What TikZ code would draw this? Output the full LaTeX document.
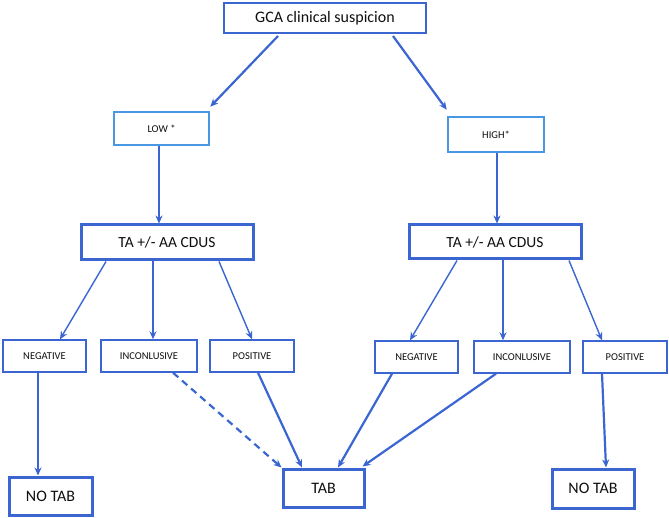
\documentclass[tikz,border=0pt]{standalone}
\usepackage{fontspec}
\setmainfont{Carlito}
\usetikzlibrary{arrows.meta,calc}
\definecolor{mainblue}{RGB}{59,102,210}
\definecolor{lightblue}{RGB}{74,152,228}
\definecolor{txt}{RGB}{15,15,15}
\begin{document}
\begin{tikzpicture}[x=1pt,y=-1pt,
  box/.style={draw=mainblue,rectangle,inner sep=0pt,align=center,text=txt},
  topbox/.style={box,line width=2pt,font=\fontsize{16}{18}\selectfont},
  lvlbox/.style={box,draw=lightblue,line width=2.5pt,font=\fontsize{10.5}{12}\selectfont},
  tabox/.style={box,line width=3pt,font=\fontsize{15.5}{18}\selectfont},
  resbox/.style={box,line width=1.4pt,font=\fontsize{10.5}{12}\selectfont},
  endbox/.style={box,line width=3pt,font=\fontsize{16}{18}\selectfont},
  arr/.style={draw=mainblue,line width=2.2pt,-{Stealth[length=8pt,width=7pt]}},
  thinarr/.style={draw=mainblue,line width=1.4pt,-{Stealth[length=8pt,width=7pt]}},
  dasharr/.style={arr,dash pattern=on 7pt off 5pt}]
\useasboundingbox[fill=white] (0,0) rectangle (669,518);
\node[topbox,minimum width=202,minimum height=30] (top) at (325,18) {GCA clinical suspicion};
\node[lvlbox,minimum width=95,minimum height=33] (low) at (161.5,128.5) {LOW *};
\node[lvlbox,minimum width=96,minimum height=35] (high) at (496,134.5) {HIGH*};
\node[tabox,minimum width=172,minimum height=35] (ta1) at (167,242.5) {TA +/- AA CDUS};
\node[tabox,minimum width=172,minimum height=34] (ta2) at (495,242) {TA +/- AA CDUS};
\node[resbox,minimum width=83,minimum height=32] (neg1) at (44.5,356) {NEGATIVE};
\node[resbox,minimum width=96,minimum height=32] (inc1) at (149,356) {INCONLUSIVE};
\node[resbox,minimum width=84,minimum height=32] (pos1) at (252,356) {POSITIVE};
\node[resbox,minimum width=83,minimum height=32] (neg2) at (416.5,357) {NEGATIVE};
\node[resbox,minimum width=96,minimum height=32] (inc2) at (522,357) {INCONLUSIVE};
\node[resbox,minimum width=84,minimum height=32] (pos2) at (625,357) {POSITIVE};
\node[endbox,minimum width=83,minimum height=38] (notab1) at (50.5,496) {NO TAB};
\node[endbox,minimum width=81,minimum height=38] (tab) at (323.5,488) {TAB};
\node[endbox,minimum width=82,minimum height=39] (notab2) at (593,488.5) {NO TAB};
% top level
\draw[arr] ([xshift=-47pt,yshift=-2pt]top.south) -- ([yshift=4pt]low.north east);
\draw[arr] ([xshift=68pt,yshift=-2pt]top.south) -- ([yshift=6pt]high.north west);
\draw[arr] ([xshift=-2.5pt]low.south) -- ([xshift=-2.5pt]low.south |- ta1.north);
\draw[arr] ([xshift=1pt]high.south) -- ([xshift=1pt]high.south |- ta2.north);
% left branch
\draw[thinarr] ([xshift=-61pt]ta1.south) -- ([xshift=15.5pt]neg1.north);
\draw[thinarr] ([xshift=4pt]inc1.north |- ta1.south) -- ([xshift=4pt]inc1.north);
\draw[thinarr] ([xshift=52pt]ta1.south) -- (pos1.north);
% right branch
\draw[thinarr] ([xshift=-38pt]ta2.south) -- ([xshift=-6.5pt]neg2.north);
\draw[thinarr] ([xshift=-19pt]inc2.north |- ta2.south) -- ([xshift=-19pt]inc2.north);
\draw[thinarr] ([xshift=74pt]ta2.south) -- ([xshift=-23pt]pos2.north);
% outcomes
\draw[arr] ([xshift=-12.5pt]notab1.north |- neg1.south) -- ([xshift=-12.5pt]notab1.north);
\draw[dasharr] ([xshift=24pt]inc1.south) -- (tab.north west);
\draw[arr] ([xshift=6pt]pos1.south) -- ([xshift=-21.5pt]tab.north);
\draw[arr] ([xshift=-24.5pt]neg2.south) -- ([xshift=14.5pt]tab.north);
\draw[arr] ([xshift=-26pt]inc2.south) -- ([xshift=-3pt,yshift=1pt]tab.north east);
\draw[arr] ([xshift=-23pt]pos2.south) -- ([xshift=13pt]notab2.north);
\end{tikzpicture}
\end{document}
